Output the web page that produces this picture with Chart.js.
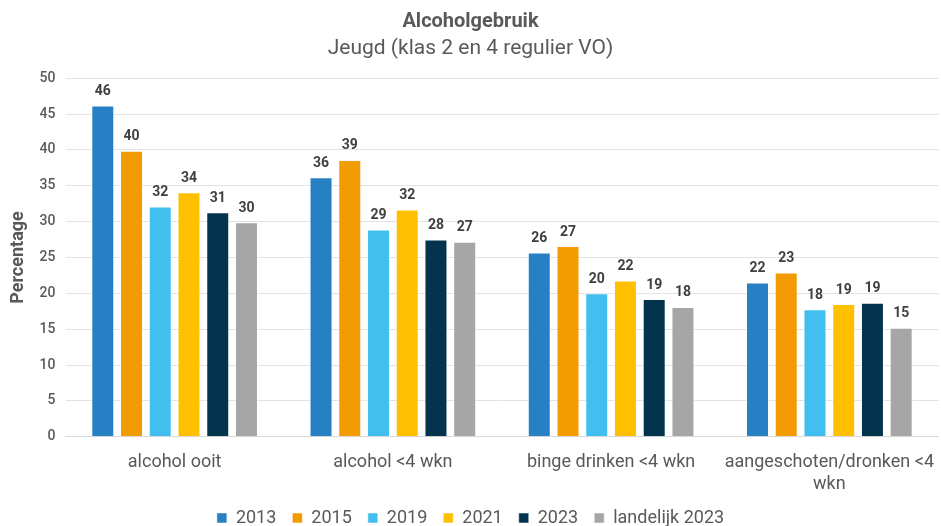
<!DOCTYPE html>
<html lang="nl">
<head>
    <meta charset="UTF-8">
    <title>Alcoholgebruik</title>
    <style>
        body {
            margin: 0;
            padding: 0;
            background-color: #fff;
        }
        .chart-container {
            width: 941px;
            height: 526px;
        }
    </style>
</head>
<body>

    <div class="chart-container">
        <canvas id="alcoholChart"></canvas>
    </div>

    <script src="https://cdn.jsdelivr.net/npm/chart.js"></script>
    <script>
        // Data
        const categories = [
            'alcohol ooit',
            'alcohol <4 wkn',
            'binge drinken <4 wkn',
            ['aangeschoten/dronken <4', 'wkn']
        ];
        const seriesNames = ['2013', '2015', '2019', '2021', '2023', 'landelijk 2023'];
        const values2013 = [46.2, 36.2, 25.7, 21.5];
        const values2015 = [39.9, 38.6, 26.6, 22.9];
        const values2019 = [32.1, 28.9, 20.0, 17.8];
        const values2021 = [34.1, 31.7, 21.8, 18.5];
        const values2023 = [31.3, 27.5, 19.2, 18.7];
        const valuesLandelijk = [29.9, 27.2, 18.1, 15.2];
        const yTicks = [0, 5, 10, 15, 20, 25, 30, 35, 40, 45, 50];

        const seriesValues = [values2013, values2015, values2019, values2021, values2023, valuesLandelijk];
        const colors = ['#2780C3', '#F39B02', '#42BFEE', '#FFC002', '#04344D', '#A6A6A6'];

        const textColor = '#595959';
        const fontFamily = 'Roboto, Arial, sans-serif';

        // Simple value labels above the bars
        const valueLabels = {
            id: 'valueLabels',
            afterDatasetsDraw(chart) {
                const ctx = chart.ctx;
                ctx.save();
                ctx.font = 'bold 14px ' + fontFamily;
                ctx.fillStyle = '#404040';
                ctx.textAlign = 'center';
                ctx.textBaseline = 'middle';
                chart.data.datasets.forEach(function(ds, i) {
                    chart.getDatasetMeta(i).data.forEach(function(bar, j) {
                        ctx.fillText(Math.round(ds.data[j]), bar.x, bar.y - 14);
                    });
                });
                ctx.restore();
            }
        };

        const data = {
            labels: categories,
            datasets: seriesNames.map(function(name, i) {
                return {
                    label: name,
                    data: seriesValues[i],
                    backgroundColor: colors[i],
                    borderColor: 'rgba(255,255,255,0.5)',
                    borderWidth: 1,
                    barPercentage: 0.8,
                    categoryPercentage: 0.79
                };
            })
        };

        const config = {
            type: 'bar',
            data: data,
            options: {
                responsive: true,
                maintainAspectRatio: false,
                animation: false,
                layout: {
                    // negative bottom lets the legend sit close to the lower edge
                    padding: { left: 0, right: 0, top: 4, bottom: -11 }
                },
                plugins: {
                    title: {
                        display: true,
                        text: 'Alcoholgebruik',
                        color: textColor,
                        font: { family: fontFamily, size: 20, weight: 'bold' },
                        padding: { top: 6, bottom: 2 }
                    },
                    subtitle: {
                        display: true,
                        text: 'Jeugd (klas 2 en 4 regulier VO)',
                        color: textColor,
                        font: { family: fontFamily, size: 21 },
                        padding: { bottom: 17 }
                    },
                    legend: {
                        position: 'bottom',
                        labels: {
                            color: textColor,
                            font: { family: fontFamily, size: 18 },
                            boxWidth: 10,
                            boxHeight: 10,
                            padding: 16
                        }
                    },
                    tooltip: { enabled: false }
                },
                scales: {
                    x: {
                        grid: { display: false },
                        border: { color: '#d9d9d9' },
                        ticks: {
                            color: textColor,
                            font: { family: fontFamily, size: 18 },
                            maxRotation: 0,
                            padding: 7
                        },
                        afterFit: function(axis) {
                            axis.height -= 9;
                        }
                    },
                    y: {
                        min: 0,
                        max: 50,
                        afterBuildTicks: function(axis) {
                            axis.ticks = yTicks.map(function(v) { return { value: v }; });
                        },
                        grid: { color: '#e3e3e3', drawTicks: false },
                        border: { display: false },
                        ticks: {
                            color: textColor,
                            font: { family: fontFamily, size: 14, weight: '500' },
                            padding: 10
                        },
                        title: {
                            display: true,
                            text: 'Percentage',
                            color: textColor,
                            font: { family: fontFamily, size: 18, weight: 'bold' },
                            padding: { top: 8, bottom: 0 }
                        }
                    }
                }
            },
            plugins: [valueLabels]
        };

        const alcoholChart = new Chart(document.getElementById('alcoholChart'), config);
    </script>

</body>
</html>
